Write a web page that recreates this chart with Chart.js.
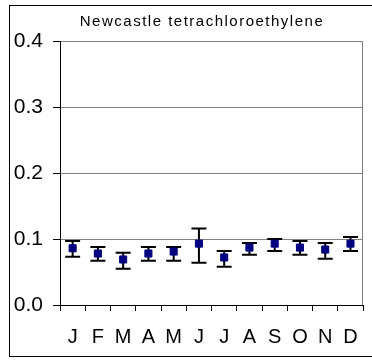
<!DOCTYPE html>
<html>
<head>
<meta charset="utf-8">
<script src="https://cdn.jsdelivr.net/npm/chart.js@4"></script>
<style>
  html, body { margin: 0; padding: 0; background: #fff; }
  #chart { display: block; }
</style>
</head>
<body>
<canvas id="chart" width="372" height="360"></canvas>
<script>
// month labels
const months = ['J', 'F', 'M', 'A', 'M', 'J', 'J', 'A', 'S', 'O', 'N', 'D'];
// monthly means and error bar ends
const means = [0.086, 0.078, 0.069, 0.078, 0.081, 0.093, 0.072, 0.087, 0.093, 0.087, 0.084, 0.093];
const upper = [0.097, 0.088, 0.079, 0.088, 0.088, 0.116, 0.082, 0.094, 0.100, 0.097, 0.094, 0.103];
const lower = [0.073, 0.067, 0.055, 0.067, 0.067, 0.064, 0.058, 0.076, 0.082, 0.076, 0.070, 0.082];
const yTicks = [0, 0.1, 0.2, 0.3, 0.4];
const title = 'Newcastle tetrachloroethylene';

Chart.defaults.font.family = '"Liberation Sans", Arial, sans-serif';
Chart.defaults.color = '#000';

// outer frame, right plot edge and title
const framePlugin = {
  id: 'frame',
  beforeDraw(chart) {
    const ctx = chart.ctx;
    const a = chart.chartArea;
    ctx.save();
    ctx.strokeStyle = '#000';
    ctx.lineWidth = 1;
    ctx.strokeRect(9.5, 5.5, 380, 351);
    ctx.strokeStyle = '#808080';
    ctx.beginPath();
    ctx.moveTo(Math.round(a.right) - 0.5, a.top);
    ctx.lineTo(Math.round(a.right) - 0.5, a.bottom);
    ctx.stroke();
    ctx.fillStyle = '#000';
    ctx.font = '15px "Liberation Sans", Arial, sans-serif';
    ctx.letterSpacing = '1.5px';
    ctx.textAlign = 'center';
    ctx.textBaseline = 'middle';
    ctx.fillText(title, 202, 22);
    ctx.restore();
  }
};

// error bars drawn under the markers
const errorBarPlugin = {
  id: 'errorBars',
  beforeDatasetsDraw(chart) {
    const ctx = chart.ctx;
    const x = chart.scales.x;
    const y = chart.scales.y;
    ctx.save();
    ctx.strokeStyle = '#000';
    ctx.lineWidth = 2;
    for (let i = 0; i < means.length; i++) {
      const px = x.getPixelForValue(i);
      const top = y.getPixelForValue(upper[i]);
      const bot = y.getPixelForValue(lower[i]);
      ctx.beginPath();
      ctx.moveTo(px, top);
      ctx.lineTo(px, bot);
      ctx.moveTo(px - 7.5, top);
      ctx.lineTo(px + 7.5, top);
      ctx.moveTo(px - 7.5, bot);
      ctx.lineTo(px + 7.5, bot);
      ctx.stroke();
    }
    ctx.restore();
  }
};

new Chart(document.getElementById('chart'), {
  type: 'line',
  data: {
    labels: months,
    datasets: [{
      data: means,
      showLine: false,
      pointStyle: 'rect',
      pointRadius: 5,
      pointBorderWidth: 1,
      pointBackgroundColor: '#000080',
      pointBorderColor: '#000080'
    }]
  },
  options: {
    responsive: false,
    animation: false,
    devicePixelRatio: 1,
    layout: { padding: { left: 10, right: 7, top: 41, bottom: 3 } },
    plugins: {
      legend: { display: false },
      tooltip: { enabled: false },
      title: { display: false }
    },
    scales: {
      x: {
        offset: true,
        afterFit(scale) { scale.height = 52; },
        grid: {
          offset: true,
          drawOnChartArea: false,
          tickLength: 6,
          tickColor: '#000'
        },
        border: { color: '#000', width: 1 },
        ticks: {
          autoSkip: false,
          maxRotation: 0,
          padding: 14,
          font: { size: 20 }
        }
      },
      y: {
        min: 0,
        max: 0.4,
        afterFit(scale) { scale.width = 50; },
        afterBuildTicks(scale) { scale.ticks = yTicks.map(v => ({ value: v })); },
        grid: {
          color: ctx => (ctx.tick && ctx.tick.value === 0) ? 'rgba(0,0,0,0)' : '#808080',
          tickLength: 7,
          tickColor: '#000'
        },
        border: { color: '#000', width: 1 },
        ticks: {
          padding: 10,
          font: { size: 21 },
          callback: v => Number(v).toFixed(1)
        }
      }
    }
  },
  plugins: [framePlugin, errorBarPlugin]
});
</script>
</body>
</html>
